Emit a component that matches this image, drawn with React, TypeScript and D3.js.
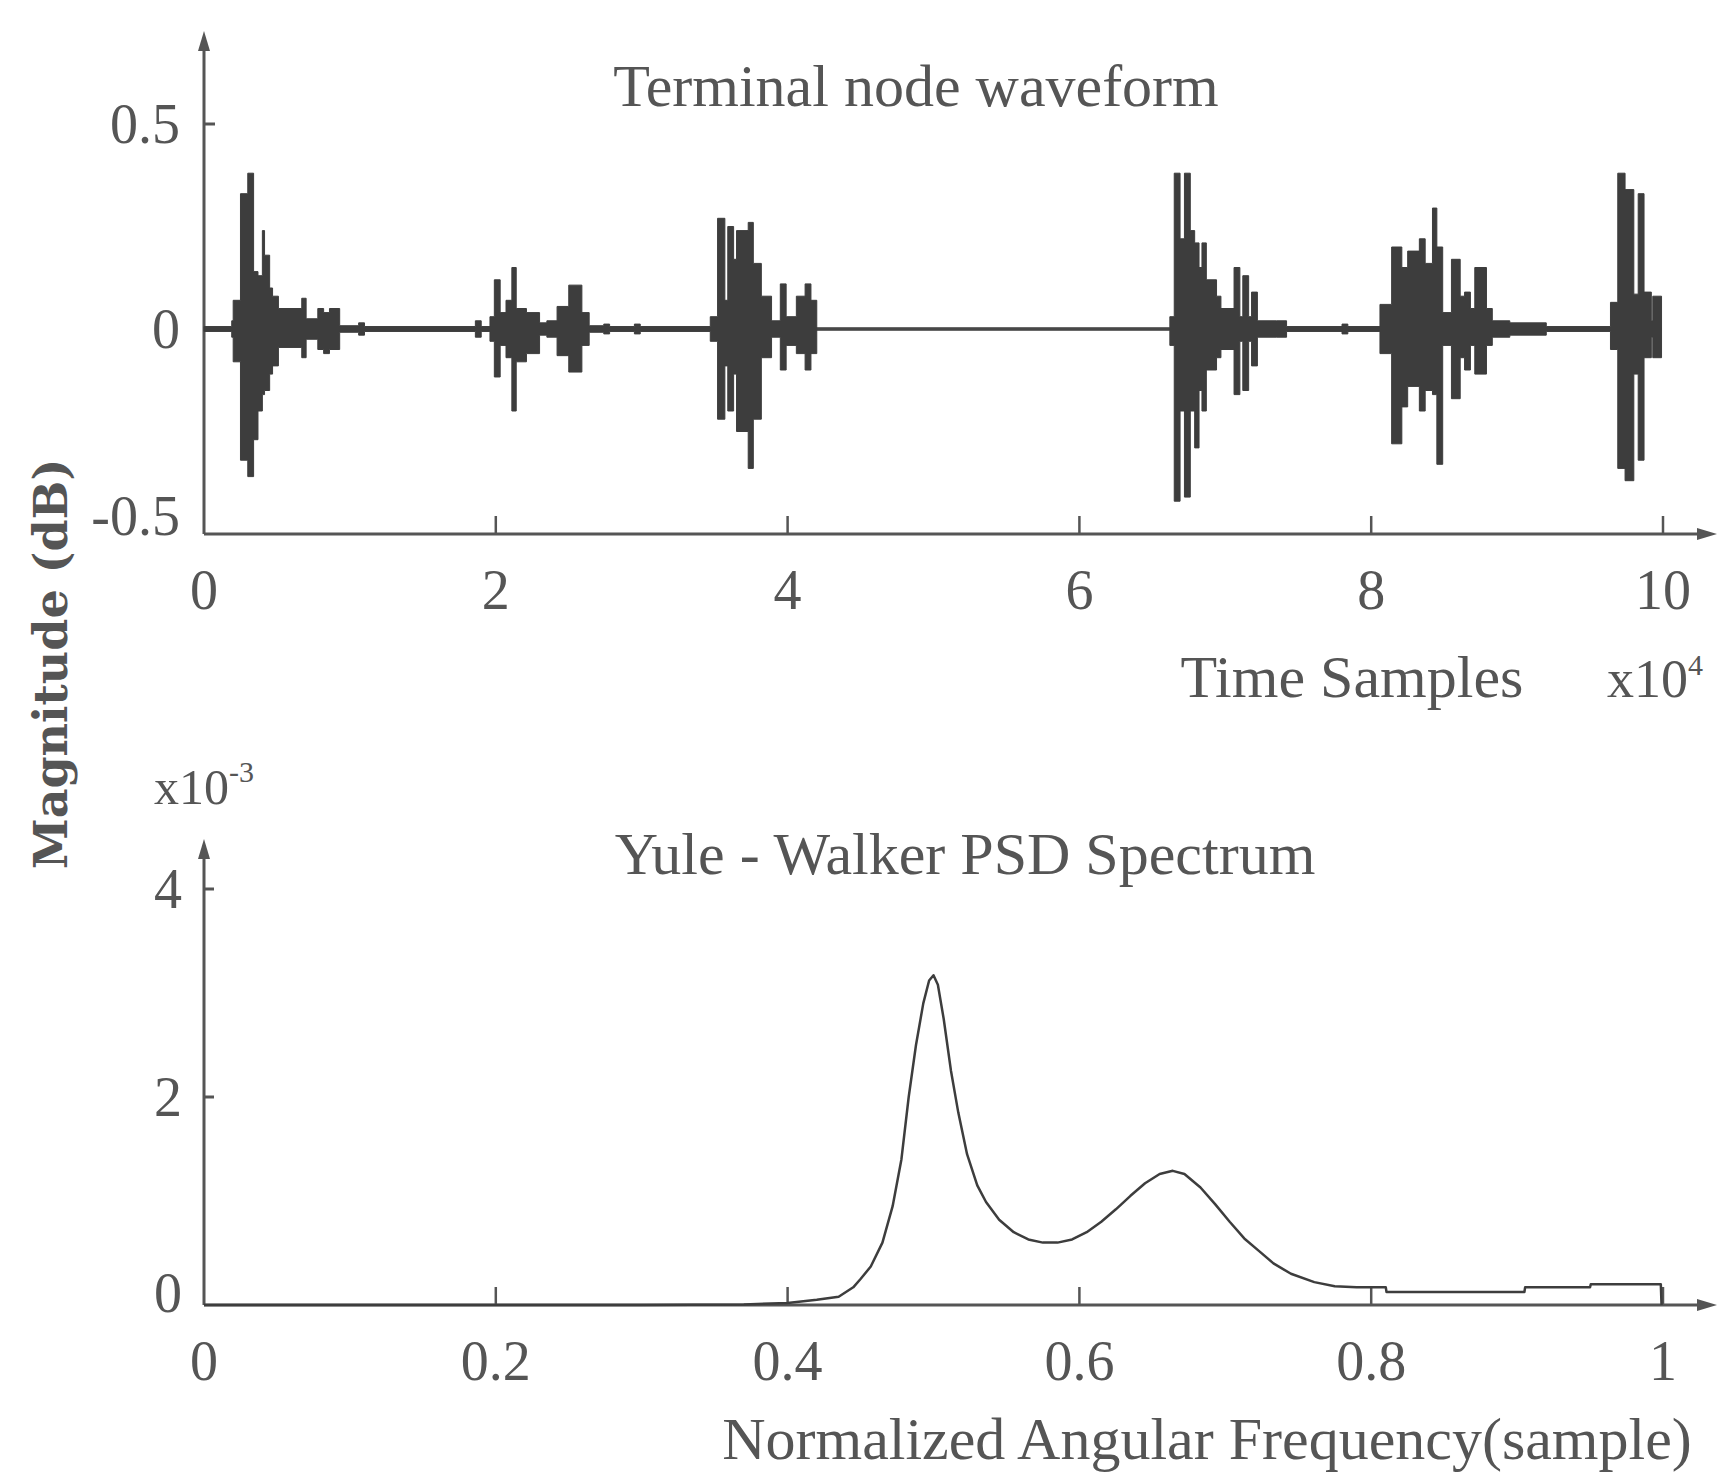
import React from "react";
import * as d3 from "d3";

// ---------- Top: Terminal node waveform (envelope, x in 1e4 samples) ----------
const waveT = [0, 0.19, 0.2, 0.25, 0.3, 0.34, 0.37, 0.4, 0.415, 0.45, 0.47, 0.51, 0.67, 0.7, 0.78, 0.82, 0.86, 0.93, 1.06, 1.1,
  1.86, 1.9, 1.96, 1.99, 2.03, 2.07, 2.11, 2.14, 2.21, 2.3, 2.35, 2.42, 2.5, 2.59, 2.64, 2.74, 2.78, 2.95, 2.99,
  3.47, 3.52, 3.57, 3.59, 3.63, 3.65, 3.73, 3.765, 3.82, 3.89, 3.95, 3.99, 4.06, 4.12, 4.16, 4.2,
  6.62, 6.65, 6.69, 6.72, 6.76, 6.79, 6.82, 6.84, 6.87, 6.94, 6.97, 7.06, 7.1, 7.12, 7.16, 7.18, 7.22, 7.35, 7.42,
  7.8, 7.84, 8.06, 8.14, 8.21, 8.25, 8.33, 8.37, 8.42, 8.45, 8.49, 8.55, 8.61, 8.64, 8.68, 8.71, 8.79, 8.83, 8.95, 9.2,
  9.64, 9.69, 9.74, 9.8, 9.83, 9.87, 9.92, 9.93, 9.99];
const waveHi = [0.006, 0.02, 0.07, 0.33, 0.38, 0.14, 0.13, 0.24, 0.18, 0.1, 0.08, 0.05, 0.075, 0.025, 0.05, 0.04, 0.05, 0.008, 0.015, 0.006,
  0.02, 0.006, 0.03, 0.12, 0.04, 0.07, 0.15, 0.05, 0.04, 0.015, 0.02, 0.055, 0.107, 0.04, 0.008, 0.012, 0.006, 0.012, 0.006,
  0.03, 0.27, 0.07, 0.25, 0.17, 0.24, 0.26, 0.16, 0.08, 0.02, 0.11, 0.03, 0.08, 0.11, 0.07, 0,
  0.03, 0.38, 0.22, 0.38, 0.24, 0.21, 0.15, 0.21, 0.12, 0.08, 0.05, 0.15, 0.03, 0.13, 0.03, 0.09, 0.02, 0.02, 0.006,
  0.012, 0.006, 0.06, 0.2, 0.15, 0.19, 0.22, 0.16, 0.295, 0.2, 0.04, 0.17, 0.08, 0.09, 0.05, 0.15, 0.05, 0.02, 0.015, 0.006,
  0.065, 0.38, 0.34, 0.085, 0.33, 0.09, 0.02, 0.08, 0];
const waveLo = [-0.006, -0.02, -0.08, -0.32, -0.36, -0.27, -0.2, -0.16, -0.15, -0.11, -0.09, -0.045, -0.07, -0.025, -0.05, -0.06, -0.05, -0.008, -0.015, -0.006,
  -0.02, -0.006, -0.03, -0.117, -0.04, -0.07, -0.2, -0.08, -0.06, -0.015, -0.02, -0.065, -0.105, -0.04, -0.008, -0.012, -0.006, -0.012, -0.006,
  -0.03, -0.22, -0.09, -0.2, -0.11, -0.25, -0.34, -0.22, -0.07, -0.02, -0.1, -0.04, -0.06, -0.1, -0.06, 0,
  -0.04, -0.42, -0.2, -0.41, -0.2, -0.29, -0.15, -0.2, -0.1, -0.07, -0.05, -0.16, -0.03, -0.15, -0.03, -0.09, -0.02, -0.02, -0.006,
  -0.012, -0.006, -0.06, -0.28, -0.19, -0.14, -0.2, -0.15, -0.16, -0.33, -0.04, -0.17, -0.07, -0.1, -0.04, -0.11, -0.04, -0.02, -0.015, -0.006,
  -0.05, -0.34, -0.37, -0.11, -0.32, -0.07, -0.02, -0.07, 0];
const gapStart = 4.18;
const gapEnd = 6.62;
const topXTicks = [0, 2, 4, 6, 8, 10];
const topYTicks = [0.5, 0, -0.5];
const topYLabels = ["0.5", "0", "-0.5"];

// ---------- Bottom: Yule-Walker PSD (x normalized freq, y in 1e-3) ----------
const psdF = [0, 0.1, 0.2, 0.3, 0.37, 0.4, 0.42, 0.435, 0.445, 0.45, 0.457, 0.465, 0.472, 0.478, 0.483, 0.488, 0.493, 0.497, 0.5,
  0.503, 0.507, 0.512, 0.517, 0.523, 0.53, 0.536, 0.545, 0.555, 0.565, 0.575, 0.585, 0.595, 0.605, 0.615, 0.625, 0.635, 0.645,
  0.655, 0.664, 0.672, 0.683, 0.693, 0.703, 0.713, 0.723, 0.733, 0.745, 0.761, 0.775, 0.79, 0.81, 0.8105, 0.86, 0.905, 0.9055,
  0.95, 0.9505, 0.9985, 0.999];
const psdV = [0, 0, 0, 0, 0.005, 0.02, 0.05, 0.08, 0.17, 0.25, 0.37, 0.6, 0.95, 1.4, 2.0, 2.5, 2.9, 3.12, 3.17,
  3.08, 2.75, 2.25, 1.85, 1.45, 1.15, 0.99, 0.82, 0.7, 0.63, 0.6, 0.6, 0.63, 0.7, 0.8, 0.92, 1.05, 1.17,
  1.26, 1.29, 1.26, 1.13, 0.97, 0.8, 0.64, 0.52, 0.4, 0.3, 0.22, 0.18, 0.17, 0.17, 0.125, 0.125, 0.125, 0.17,
  0.17, 0.2, 0.2, 0];
const botXTicks = [0, 0.2, 0.4, 0.6, 0.8, 1];
const botXLabels = ["0", "0.2", "0.4", "0.6", "0.8", "1"];
const botYTicks = [0, 2, 4];

const SERIF = "'Liberation Serif', 'Times New Roman', serif";
const TXT = "#555";
const AX = "#555";
const INK = "#3d3d3d";

export default function App() {
  const xT = d3.scaleLinear().domain([0, 10]).range([204, 1663]);
  const yT = d3.scaleLinear().domain([-0.5, 0.5]).range([534, 124]);
  const xB = d3.scaleLinear().domain([0, 1]).range([204, 1663]);
  const yB = d3.scaleLinear().domain([0, 4]).range([1305, 889]);

  const idx = waveT.map((_, i) => i);
  const wavePath = d3
    .area<number>()
    .x((i) => xT(waveT[i]))
    .y0((i) => yT(waveLo[i]))
    .y1((i) => yT(waveHi[i]))
    .curve(d3.curveStepAfter)(idx) as string;

  const psdPath = d3
    .line<number>()
    .x((i) => xB(psdF[i]))
    .y((i) => yB(psdV[i]))(psdF.map((_, i) => i)) as string;

  const axis = (x0: number, yBase: number, yTip: number, xTip: number) => (
    <g>
      <line x1={x0} y1={yBase} x2={x0} y2={yTip + 14} stroke={AX} strokeWidth={3} />
      <path d={`M${x0},${yTip} L${x0 - 6},${yTip + 20} L${x0 + 6},${yTip + 20} Z`} fill={AX} />
      <line x1={x0} y1={yBase} x2={xTip - 14} y2={yBase} stroke={AX} strokeWidth={3} />
      <path d={`M${xTip},${yBase} L${xTip - 20},${yBase - 6} L${xTip - 20},${yBase + 6} Z`} fill={AX} />
    </g>
  );

  return (
    <svg
      width={1720}
      height={1481}
      style={{ position: "absolute", left: 0, top: 0, background: "#fff" }}
      fontFamily={SERIF}
    >
      <rect x={0} y={0} width={1720} height={1481} fill="#fff" />

      {/* ---------- Top chart ---------- */}
      {axis(xT(0), yT(-0.5), 31, 1717)}
      {topXTicks.filter((v) => v !== 0).map((v) => (
        <line key={"tx" + v} x1={xT(v)} x2={xT(v)} y1={yT(-0.5)} y2={yT(-0.5) - 18} stroke={AX} strokeWidth={2.5} />
      ))}
      <line x1={xT(0)} x2={xT(0) + 11} y1={yT(0.5)} y2={yT(0.5)} stroke={AX} strokeWidth={3} />
      {topXTicks.map((v) => (
        <text key={"txl" + v} x={xT(v)} y={609} textAnchor="middle" fontSize={56} fill={TXT}>
          {v}
        </text>
      ))}
      {topYTicks.map((v, i) => (
        <text
          key={"tyl" + v}
          x={180}
          y={yT(v) - (v === -0.5 ? 18 : 0)}
          textAnchor="end"
          dominantBaseline="central"
          fontSize={56}
          fill={TXT}
        >
          {topYLabels[i]}
        </text>
      ))}
      {/* zero baseline and the flat gap */}
      <line x1={xT(0)} x2={xT(9.99)} y1={yT(0)} y2={yT(0)} stroke={INK} strokeWidth={2.5} />
      <line x1={xT(gapStart)} x2={xT(gapEnd)} y1={yT(0)} y2={yT(0)} stroke="#6a6a6a" strokeWidth={4} />
      <path d={wavePath} fill={INK} stroke={INK} strokeWidth={1} />

      <text x={916} y={106} textAnchor="middle" fontSize={60} fill={TXT}>
        Terminal node waveform
      </text>
      <text x={1352} y={697} textAnchor="middle" fontSize={60} fill={TXT}>
        Time Samples
      </text>
      <text x={1607} y={697} fontSize={54} fill={TXT}>
        x10
        <tspan dy={-22} fontSize={30}>4</tspan>
      </text>

      {/* shared y label */}
      <text
        transform="translate(51,664) rotate(-90)"
        textAnchor="middle"
        dominantBaseline="central"
        fontFamily="'DejaVu Serif', serif"
        fontWeight="bold"
        fontSize={46}
        fill={TXT}
      >
        Magnitude (dB)
      </text>

      {/* ---------- Bottom chart ---------- */}
      {axis(xB(0), yB(0), 839, 1717)}
      {botXTicks.filter((v) => v !== 0).map((v) => (
        <line key={"bx" + v} x1={xB(v)} x2={xB(v)} y1={yB(0)} y2={yB(0) - 18} stroke={AX} strokeWidth={2.5} />
      ))}
      {botYTicks.filter((v) => v !== 0).map((v) => (
        <line key={"by" + v} x1={xB(0)} x2={xB(0) + 10} y1={yB(v)} y2={yB(v)} stroke={AX} strokeWidth={3} />
      ))}
      {botXTicks.map((v, i) => (
        <text key={"bxl" + v} x={xB(v)} y={1380} textAnchor="middle" fontSize={56} fill={TXT}>
          {botXLabels[i]}
        </text>
      ))}
      {botYTicks.map((v) => (
        <text
          key={"byl" + v}
          x={182}
          y={yB(v) - (v === 0 ? 12 : 0)}
          textAnchor="end"
          dominantBaseline="central"
          fontSize={56}
          fill={TXT}
        >
          {v}
        </text>
      ))}
      <path d={psdPath} fill="none" stroke={INK} strokeWidth={2.5} strokeLinejoin="round" />

      <text x={154} y={804} fontSize={50} fill={TXT}>
        x10
        <tspan dy={-22} fontSize={30}>-3</tspan>
      </text>
      <text x={965} y={874} textAnchor="middle" fontSize={60} fill={TXT}>
        Yule - Walker PSD Spectrum
      </text>
      <text x={1207} y={1459} textAnchor="middle" fontSize={60} fill={TXT}>
        Normalized Angular Frequency(sample)
      </text>
    </svg>
  );
}
